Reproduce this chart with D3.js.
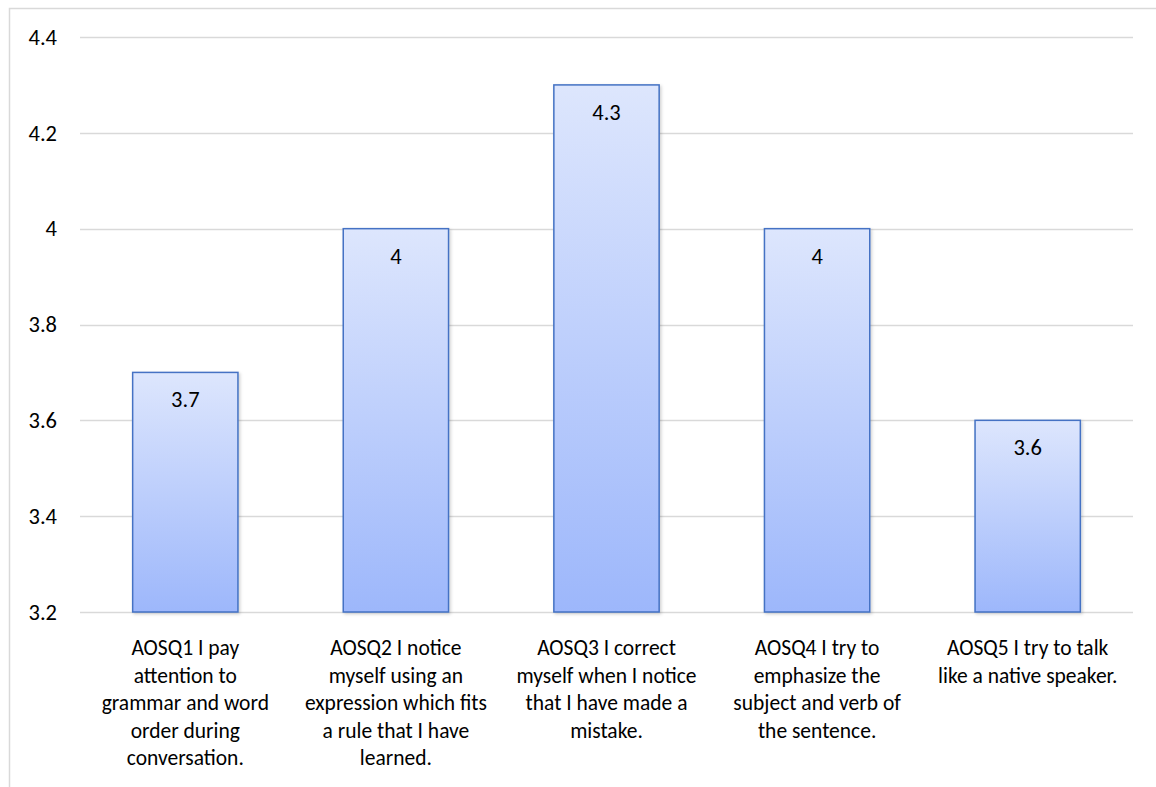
<!DOCTYPE html>
<html>
<head>
<meta charset="utf-8">
<script src="https://cdn.jsdelivr.net/npm/d3@7"></script>
<style>
  body { margin: 0; background: #fff; }
  svg text { font-family: Calibri, Carlito, Lato, sans-serif; fill: #000; }
</style>
</head>
<body>
<div id="chart"></div>
<script>
// data
const categories = [
  ["AOSQ1 I pay", "attention to", "grammar and word", "order during", "conversation."],
  ["AOSQ2 I notice", "myself using an", "expression which fits", "a rule that I have", "learned."],
  ["AOSQ3 I correct", "myself when I notice", "that I have made a", "mistake."],
  ["AOSQ4 I try to", "emphasize the", "subject and verb of", "the sentence."],
  ["AOSQ5 I try to talk", "like a native speaker."],
]
const values = [3.7, 4, 4.3, 4, 3.6]
const yTicks = [3.2, 3.4, 3.6, 3.8, 4, 4.2, 4.4]

const width = 1156
const height = 787
const margin = { top: 37, right: 23, bottom: 175, left: 80 }
const fontSize = 21.5

const svg = d3
  .select("#chart")
  .append("svg")
  .attr("width", width)
  .attr("height", height)

// outer frame (cropped on the right and bottom)
svg
  .append("path")
  .attr("d", `M9.5,${height} V8.5 H${width}`)
  .attr("fill", "none")
  .attr("stroke", "#d9d9d9")
  .attr("stroke-width", 1.5)

const defs = svg.append("defs")
const grad = defs
  .append("linearGradient")
  .attr("id", "barFill")
  .attr("x1", 0)
  .attr("y1", 0)
  .attr("x2", 0)
  .attr("y2", 1)
grad.append("stop").attr("offset", "0%").attr("stop-color", "#dde6fd")
grad.append("stop").attr("offset", "100%").attr("stop-color", "#9db7fb")

const shadow = defs
  .append("filter")
  .attr("id", "shadow")
  .attr("x", "-10%")
  .attr("y", "-10%")
  .attr("width", "130%")
  .attr("height", "130%")
shadow
  .append("feDropShadow")
  .attr("dx", 1.5)
  .attr("dy", 1.5)
  .attr("stdDeviation", 1.5)
  .attr("flood-color", "#000")
  .attr("flood-opacity", 0.18)

const x = d3
  .scaleBand()
  .domain(d3.range(values.length))
  .range([margin.left, width - margin.right])
  .paddingInner(0.5)
  .paddingOuter(0.25)

const y = d3
  .scaleLinear()
  .domain([3.2, 4.4])
  .range([height - margin.bottom, margin.top])

// gridlines
svg
  .append("g")
  .selectAll("line")
  .data(yTicks)
  .enter()
  .append("line")
  .attr("x1", margin.left)
  .attr("x2", width - margin.right)
  .attr("y1", (d) => Math.round(y(d)) + 0.5)
  .attr("y2", (d) => Math.round(y(d)) + 0.5)
  .attr("stroke", "#d9d9d9")
  .attr("stroke-width", 1.5)

// y axis labels
const yAxis = svg
  .append("g")
  .attr("transform", `translate(${margin.left - 23},0)`)
  .call(d3.axisLeft(y).tickValues(yTicks).tickSize(0).tickPadding(0).tickFormat(d3.format("")))
yAxis.select(".domain").remove()
yAxis.selectAll("text").attr("font-size", fontSize + 1).attr("font-family", null)

// bars
svg
  .append("g")
  .selectAll("rect")
  .data(values)
  .enter()
  .append("rect")
  .attr("x", (d, i) => x(i))
  .attr("y", (d) => y(d))
  .attr("width", x.bandwidth())
  .attr("height", (d) => y(3.2) - y(d))
  .attr("fill", "url(#barFill)")
  .attr("stroke", "#4472c4")
  .attr("stroke-width", 1.5)
  .attr("filter", "url(#shadow)")

// value labels
svg
  .append("g")
  .selectAll("text")
  .data(values)
  .enter()
  .append("text")
  .attr("x", (d, i) => x(i) + x.bandwidth() / 2)
  .attr("y", (d) => y(d) + 35)
  .attr("text-anchor", "middle")
  .attr("font-size", fontSize + 1)
  .text((d) => d)

// category labels
const catGroups = svg
  .append("g")
  .selectAll("text")
  .data(categories)
  .enter()
  .append("text")
  .attr("text-anchor", "middle")
  .attr("font-size", fontSize)
  .attr("transform", (d, i) => `translate(${x(i) + x.bandwidth() / 2},${y(3.2) + 43})`)

catGroups
  .selectAll("tspan")
  .data((d) => d)
  .enter()
  .append("tspan")
  .attr("x", 0)
  .attr("y", (d, i) => i * 27.5)
  .text((d) => d)
</script>
</body>
</html>
